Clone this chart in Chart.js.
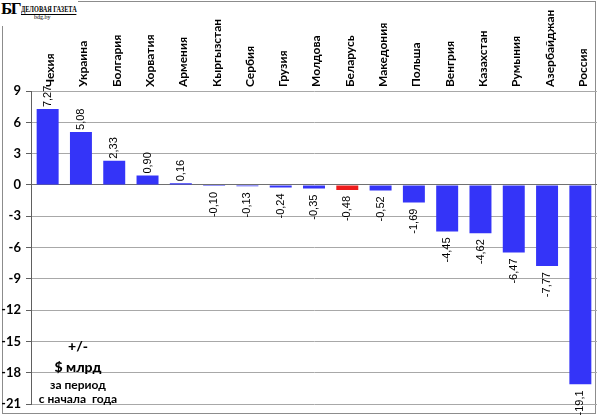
<!DOCTYPE html>
<html>
<head>
<meta charset="utf-8">
<script src="https://cdn.jsdelivr.net/npm/chart.js@4/dist/chart.umd.min.js"></script>
<style>
  html, body { margin: 0; padding: 0; background: #fff; }
  #wrap { position: relative; width: 600px; height: 417px; }
  #frame { position: absolute; left: 2px; top: 1px; width: 594px; height: 413px; border: 1px solid #8c8c8c; box-sizing: border-box; }
  #logo { position: absolute; left: 0; top: 0; width: 78px; height: 26px; background: #fff; }
  #logo .bg { position: absolute; left: 1px; top: 0px; font: bold 17px/17px "Liberation Serif", "DejaVu Serif", serif; letter-spacing: -1.5px; color: #000; }
  #logo .name { position: absolute; left: 21px; top: 5px; font: bold 8px/9px "Liberation Serif", serif; color: #000; white-space: nowrap; transform-origin: 0 0; transform: scaleX(0.78); border-bottom: 1px solid #000; }
  #logo .site { position: absolute; left: 34px; top: 14px; font: 6px/6px "Liberation Serif", serif; color: #000; }
  canvas { position: absolute; left: 0; top: 0; }
  #note { position: absolute; left: 30px; top: 339px; width: 96px; text-align: center; font-family: Lato, "Open Sans", sans-serif; color: #000; line-height: 1; }
  #note .l1 { font-weight: 900; font-size: 14px; }
  #note .l2 { font-weight: 900; font-size: 14px; margin-top: 7px; }
  #note .l3 { font-weight: bold; font-size: 12px; margin-top: 5px; }
  #note .l4 { font-weight: bold; font-size: 12px; margin-top: 2px; }
</style>
</head>
<body>
<div id="wrap">
  <div id="frame"></div>
  <canvas id="c" width="600" height="417"></canvas>
  <div id="logo"><span class="bg">БГ</span><span class="name">ДЕЛОВАЯ ГАЗЕТА</span><span class="site">bdg.by</span></div>
  <div id="note"><div class="l1">+/-</div><div class="l2">$ млрд</div><div class="l3">за период</div><div class="l4">с начала&nbsp; года</div></div>
</div>
<script>
const countries = ["Чехия","Украина","Болгария","Хорватия","Армения","Кыргызстан","Сербия","Грузия","Молдова","Беларусь","Македония","Польша","Венгрия","Казахстан","Румыния","Азербайджан","Россия"];
const changes = [7.27, 5.08, 2.33, 0.90, 0.16, -0.10, -0.13, -0.24, -0.35, -0.48, -0.52, -1.69, -4.45, -4.62, -6.47, -7.77, -19.1];
const highlighted = ["Беларусь"];
const yTicks = [9, 6, 3, 0, -3, -6, -9, -12, -15, -18, -21];

const BLUE = '#3434f8';
const RED = '#ee1c1c';

function fmt(v) {
  const s = Math.abs(v) >= 10 ? v.toFixed(1) : v.toFixed(2);
  return s.replace('.', ',');
}

const valueLabels = {
  id: 'valueLabels',
  afterDatasetsDraw(chart) {
    const ctx = chart.ctx;
    const meta = chart.getDatasetMeta(0);
    ctx.save();
    ctx.font = '11px "Liberation Sans", Arial, sans-serif';
    ctx.fillStyle = '#000';
    ctx.textBaseline = 'middle';
    meta.data.forEach((bar, i) => {
      const v = changes[i];
      ctx.save();
      if (v >= 0) {
        ctx.translate(bar.x, bar.y - 2);
        ctx.rotate(-Math.PI / 2);
        ctx.textAlign = 'left';
      } else {
        ctx.translate(bar.x, Math.max(bar.y, bar.base) + 6);
        ctx.rotate(-Math.PI / 2);
        ctx.textAlign = 'right';
      }
      ctx.fillText(fmt(v), 0, 0);
      ctx.restore();
    });
    ctx.restore();
  }
};

new Chart(document.getElementById('c'), {
  type: 'bar',
  data: {
    labels: countries,
    datasets: [{
      data: changes,
      backgroundColor: countries.map(c => highlighted.includes(c) ? RED : BLUE),
      borderWidth: 0,
      barPercentage: 0.66,
      categoryPercentage: 1.0
    }]
  },
  options: {
    responsive: false,
    animation: false,
    devicePixelRatio: 1,
    layout: { padding: { left: 2, right: 3, top: 4, bottom: 10 } },
    plugins: { legend: { display: false }, tooltip: { enabled: false } },
    scales: {
      x: {
        position: 'top',
        grid: { display: false, drawTicks: false },
        border: { display: false },
        ticks: {
          autoSkip: false,
          minRotation: 90,
          maxRotation: 90,
          padding: 4,
          labelOffset: 17,
          color: '#000',
          font: { family: 'Lato, "Open Sans", sans-serif', weight: 'bold', size: 12 }
        },
        afterFit(scale) { scale.height = 87; }
      },
      y: {
        min: -21,
        max: 9,
        afterBuildTicks(scale) { scale.ticks = yTicks.map(v => ({ value: v })); },
        grid: {
          color: ctx => (ctx.tick && ctx.tick.value === 0) ? '#707070' : '#a8a8a8',
          lineWidth: 1,
          tickLength: 5,
          tickColor: '#606060'
        },
        border: { display: true, color: '#606060', width: 1 },
        ticks: {
          padding: 5,
          color: '#000',
          font: { family: 'Lato, "Open Sans", sans-serif', weight: 'bold', size: 13 }
        },
        afterFit(scale) { scale.width = 29; }
      }
    }
  },
  plugins: [valueLabels]
});
</script>
</body>
</html>
